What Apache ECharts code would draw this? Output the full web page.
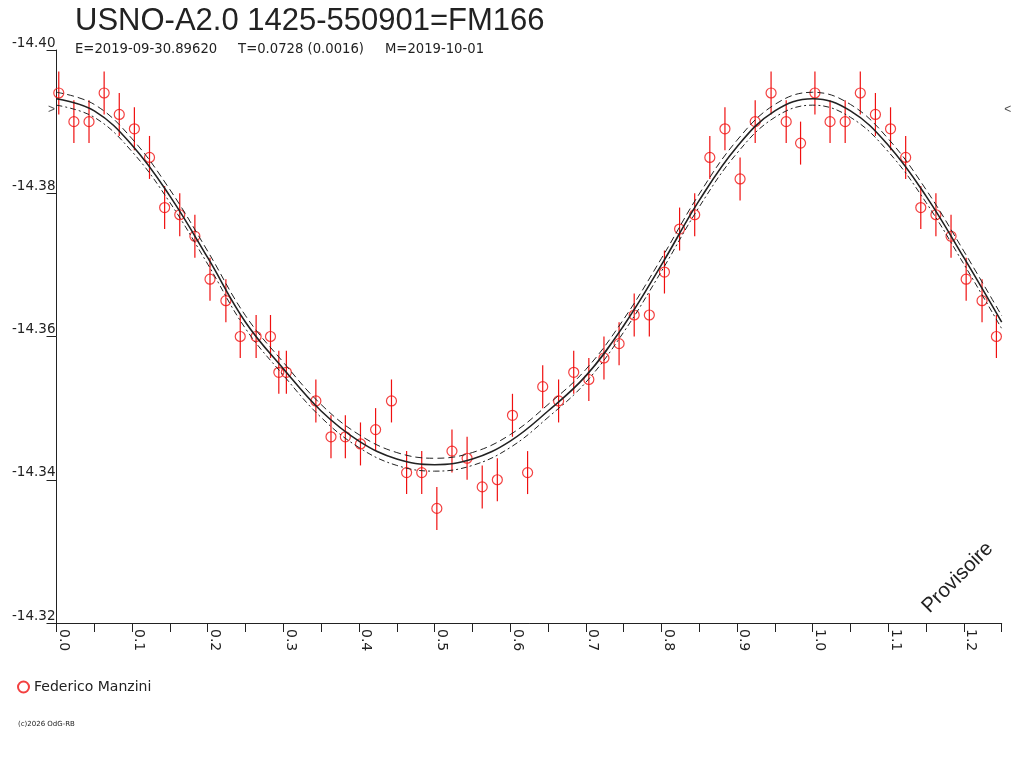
<!DOCTYPE html>
<html>
<head>
<meta charset="utf-8">
<script src="https://cdn.jsdelivr.net/npm/echarts@6/dist/echarts.min.js"></script>
<style>
  html, body { margin: 0; padding: 0; background: #fff; }
  #main { width: 1024px; height: 768px; }
</style>
</head>
<body>
<div id="main"></div>
<script>
const phases = [0.003, 0.023, 0.043, 0.063, 0.083, 0.103, 0.123, 0.143, 0.163, 0.183,
  0.203, 0.224, 0.243, 0.264, 0.283, 0.294, 0.304, 0.343, 0.363, 0.382,
  0.402, 0.422, 0.443, 0.463, 0.483, 0.503, 0.523, 0.543, 0.563, 0.583,
  0.603, 0.623, 0.643, 0.664, 0.684, 0.704, 0.724, 0.744, 0.764, 0.784,
  0.804, 0.824, 0.844, 0.864, 0.884, 0.904, 0.924, 0.945, 0.965, 0.984];
const mags = [-14.394, -14.390, -14.390, -14.394, -14.391, -14.389, -14.385, -14.378, -14.377, -14.374,
  -14.368, -14.365, -14.360, -14.360, -14.360, -14.355, -14.355, -14.351, -14.346, -14.346,
  -14.345, -14.347, -14.351, -14.341, -14.341, -14.336, -14.344, -14.343, -14.339, -14.340,
  -14.349, -14.341, -14.353, -14.351, -14.355, -14.354, -14.357, -14.359, -14.363, -14.363,
  -14.369, -14.375, -14.377, -14.385, -14.389, -14.382, -14.390, -14.394, -14.390, -14.387];
const errMag = 0.003;

// courbe ajustée et enveloppe
const fitPhases = [0, 0.05, 0.1, 0.15, 0.2, 0.25, 0.3, 0.35, 0.4, 0.45, 0.5, 0.55, 0.6,
  0.65, 0.7, 0.75, 0.8, 0.85, 0.9, 0.95, 1.0, 1.05, 1.1, 1.15, 1.2, 1.25];
const fitMid = [-14.3932, -14.3915, -14.3867, -14.3796, -14.3710, -14.3620, -14.3555, -14.3496, -14.3454, -14.3429,
  -14.3421, -14.3429, -14.3454, -14.3496, -14.3545, -14.3615, -14.3700, -14.3790, -14.3865, -14.3915,
  -14.3932, -14.3915, -14.3867, -14.3796, -14.3710, -14.3620];
const fitUpper = [-14.3941, -14.3924, -14.3876, -14.3805, -14.3719, -14.3629, -14.3564, -14.3505, -14.3463, -14.3438,
  -14.3430, -14.3438, -14.3463, -14.3505, -14.3554, -14.3624, -14.3709, -14.3799, -14.3874, -14.3924,
  -14.3941, -14.3924, -14.3876, -14.3805, -14.3719, -14.3629];
const fitLower = [-14.3923, -14.3906, -14.3858, -14.3787, -14.3701, -14.3611, -14.3546, -14.3487, -14.3445, -14.3420,
  -14.3412, -14.3420, -14.3445, -14.3487, -14.3536, -14.3606, -14.3691, -14.3781, -14.3856, -14.3906,
  -14.3923, -14.3906, -14.3858, -14.3787, -14.3701, -14.3611];
const meanMark = -14.3917;

const observer = 'Federico Manzini';
const red = '#f01010';
const ink = '#222';
const smallFont = 'DejaVu Sans, Verdana, sans-serif';

// on répète le début du cycle après la phase 1
let points = phases.map((p, i) => [p, mags[i]]);
phases.forEach((p, i) => { if (p < 0.25) points.push([p + 1, mags[i]]); });

const chart = echarts.init(document.getElementById('main'));
chart.setOption({
  animation: false,
  backgroundColor: '#fff',
  textStyle: { fontFamily: 'Liberation Sans, Arial, sans-serif' },
  title: [
    {
      text: 'USNO-A2.0 1425-550901=FM166',
      left: 75, top: 6, padding: 0,
      textStyle: { fontSize: 31, fontWeight: 'normal', color: ink }
    },
    {
      text: 'E=2019-09-30.89620     T=0.0728 (0.0016)     M=2019-10-01',
      left: 75, top: 43, padding: 0,
      textStyle: { fontSize: 13.2, fontWeight: 'normal', color: ink, fontFamily: smallFont }
    }
  ],
  legend: {
    left: 12, top: 675,
    icon: 'circle',
    itemWidth: 11, itemHeight: 11,
    itemGap: 6,
    textStyle: { fontSize: 14, color: ink, fontFamily: smallFont },
    data: [observer]
  },
  grid: { left: 56.5, right: 22.3, top: 50, bottom: 145 },
  xAxis: {
    type: 'value',
    min: 0, max: 1.25, interval: 0.05,
    axisLine: { lineStyle: { color: ink, width: 1 } },
    axisTick: { length: 9, lineStyle: { color: ink } },
    splitLine: { show: false },
    axisLabel: {
      rotate: -90, margin: 6, fontSize: 14, color: ink, fontFamily: smallFont,
      verticalAlign: 'bottom',
      formatter: v => (Math.round(v * 100) % 10 === 0 ? v.toFixed(1) : '')
    }
  },
  yAxis: {
    type: 'value',
    inverse: true,
    min: -14.40, max: -14.32, interval: 0.02,
    axisLine: { show: true, lineStyle: { color: ink, width: 1 } },
    axisTick: { show: true, length: 10, lineStyle: { color: ink } },
    splitLine: { show: false },
    axisLabel: {
      margin: 1, fontSize: 13.5, color: ink, verticalAlign: 'bottom', fontFamily: smallFont,
      formatter: v => v.toFixed(2)
    }
  },
  graphic: [
    {
      type: 'text', left: 918, top: 538, rotation: Math.PI / 4,
      style: { text: 'Provisoire', fontSize: 20.5, fill: ink, fontFamily: 'Liberation Sans, Arial, sans-serif' }
    },
    {
      type: 'text', left: 18, top: 721,
      style: { text: '(c)2026 OdG-RB', fontSize: 7, fill: ink, fontFamily: smallFont }
    }
  ],
  series: [
    {
      name: observer,
      type: 'scatter',
      symbol: 'circle',
      symbolSize: 10,
      z: 3,
      itemStyle: { color: 'rgba(0,0,0,0)', borderColor: red, borderWidth: 1.2 },
      data: points
    },
    {
      name: 'barres',
      type: 'custom',
      z: 2,
      renderItem: (params, api) => {
        const x = api.value(0), m = api.value(1);
        const a = api.coord([x, m - errMag]);
        const b = api.coord([x, m + errMag]);
        return {
          type: 'line',
          shape: { x1: a[0], y1: a[1], x2: b[0], y2: b[1] },
          style: { stroke: red, lineWidth: 1.2 }
        };
      },
      data: points
    },
    {
      name: 'fit',
      type: 'line', smooth: 0.4, showSymbol: false, z: 4,
      lineStyle: { color: ink, width: 1.6 },
      data: fitPhases.map((p, i) => [p, fitMid[i]])
    },
    {
      name: 'haut',
      type: 'line', smooth: 0.4, showSymbol: false, z: 4,
      lineStyle: { color: ink, width: 1, type: [7, 4] },
      data: fitPhases.map((p, i) => [p, fitUpper[i]])
    },
    {
      name: 'bas',
      type: 'line', smooth: 0.4, showSymbol: false, z: 4,
      lineStyle: { color: ink, width: 1, type: [6, 3, 2, 3] },
      data: fitPhases.map((p, i) => [p, fitLower[i]])
    },
    {
      name: 'repere',
      type: 'scatter', symbolSize: 0, z: 5,
      label: {
        show: true, color: ink, fontSize: 12,
        formatter: p => (p.dataIndex === 0 ? '>' : '<'),
        position: 'inside'
      },
      data: [
        { value: [0, meanMark], label: { offset: [-5, 0] } },
        { value: [1.25, meanMark], label: { offset: [6, 0] } }
      ]
    }
  ]
});
</script>
</body>
</html>
